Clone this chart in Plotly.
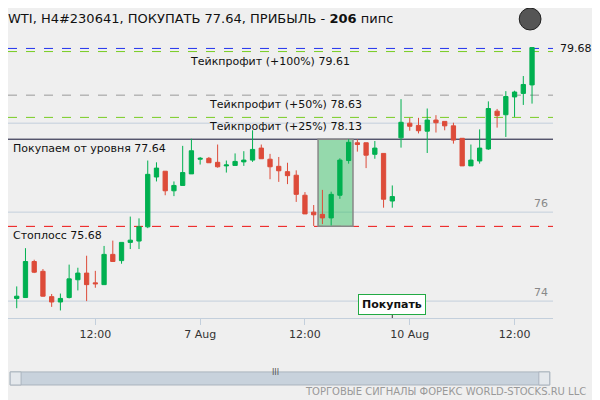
import plotly.graph_objects as go

# hourly bars
opens = [74.06, 74.08, 74.89, 74.67, 74.10, 73.98, 74.08, 74.48, 74.63, 74.41,
         74.37, 75.05, 74.91, 75.32, 75.35, 75.67, 76.79, 76.92, 76.48, 76.60,
         76.86, 77.19, 77.21, 77.12, 77.04, 77.05, 77.13, 77.17, 77.44, 77.19,
         77.03, 76.91, 76.83, 76.38, 76.00, 75.95, 75.87, 76.38, 77.16, 77.56,
         77.56, 77.30, 77.32, 76.25, 77.67, 78.00, 77.95, 77.82, 78.07, 78.04,
         77.94, 77.66, 77.04, 77.15, 77.42, 78.27, 78.19, 78.59, 78.67, 78.86]
highs = [74.33, 75.19, 74.93, 74.72, 74.16, 74.17, 74.82, 74.75, 75.02, 74.68,
         75.24, 75.36, 75.32, 75.90, 75.86, 77.16, 77.12, 76.92, 76.69, 77.49,
         77.65, 77.24, 77.24, 77.52, 77.16, 77.32, 77.37, 77.84, 77.52, 77.31,
         77.24, 77.11, 76.94, 76.45, 76.16, 76.50, 76.46, 77.21, 77.64, 77.64,
         77.56, 77.60, 77.32, 76.60, 78.54, 78.12, 78.12, 78.33, 78.18, 78.04,
         78.01, 77.66, 77.52, 77.86, 78.49, 78.32, 78.72, 78.73, 79.06, 79.70]
lows = [73.84, 74.07, 74.63, 74.10, 73.87, 73.79, 74.06, 74.24, 74.00, 74.30,
        74.37, 74.89, 74.84, 75.17, 75.17, 75.64, 76.69, 76.38, 76.36, 76.60,
        76.86, 77.07, 77.11, 77.00, 76.89, 77.05, 77.04, 77.13, 77.20, 76.74,
        76.68, 76.63, 76.23, 75.96, 75.69, 75.73, 75.70, 76.30, 77.09, 77.36,
        76.99, 77.20, 76.10, 76.10, 77.45, 77.83, 77.77, 77.33, 77.79, 77.84,
        77.54, 77.04, 77.04, 77.09, 77.40, 77.90, 77.69, 78.14, 78.41, 78.44]
closes = [74.11, 74.89, 74.65, 74.11, 73.98, 74.06, 74.50, 74.63, 74.37, 74.39,
          75.05, 74.89, 75.32, 75.37, 75.67, 76.85, 76.99, 76.48, 76.60, 76.89,
          77.38, 77.21, 77.11, 77.02, 77.06, 77.14, 77.17, 77.41, 77.20, 77.02,
          76.93, 76.82, 76.40, 75.96, 75.94, 75.87, 76.40, 77.17, 77.57, 77.52,
          77.28, 77.44, 76.29, 76.35, 78.02, 77.93, 77.83, 78.07, 78.01, 77.94,
          77.62, 77.04, 77.17, 77.44, 78.33, 78.17, 78.60, 78.70, 78.87, 79.70]
bars = list(range(len(opens)))

tick_pos = [9, 21, 33, 45, 57]
tick_text = ["12:00", "7 Aug", "12:00", "10 Aug", "12:00"]

entry = 77.64
stop = 75.68
tp_levels = [79.61, 78.63, 78.13]
tp_names = ["Тейкпрофит (+100%) 79.61", "Тейкпрофит (+50%) 78.63", "Тейкпрофит (+25%) 78.13"]
last_price = 79.68
signal_bar = 43
zone = [34.5, 38.5]

fig = go.Figure(go.Candlestick(
    x=bars, open=opens, high=highs, low=lows, close=closes,
    increasing=dict(line=dict(color="#00b050", width=1), fillcolor="#00b050"),
    decreasing=dict(line=dict(color="#dd4b39", width=1), fillcolor="#dd4b39"),
    whiskerwidth=0, showlegend=False, hoverinfo="skip"))

shapes = []
def hline(y, color, dash="solid", width=1):
    shapes.append(dict(type="line", xref="paper", x0=0, x1=1, y0=y, y1=y,
                       line=dict(color=color, dash=dash, width=width), layer="below"))

for g in [74, 76, 78]:
    hline(g, "#c3cfdc")
hline(last_price, "#2233ee", "dash")
hline(tp_levels[0], "#77cc22", "dash")
hline(tp_levels[1], "#999999", "dash")
hline(tp_levels[2], "#77cc22", "dash")
hline(entry, "#111133")
hline(stop, "#ee1111", "dash")
shapes.append(dict(type="rect", x0=zone[0], x1=zone[1], y0=stop, y1=entry,
                   fillcolor="rgba(40,190,90,0.45)", line=dict(color="#888888", width=1.5), layer="below"))
shapes.append(dict(type="line", x0=signal_bar, x1=signal_bar, y0=73.75, y1=73.62,
                   line=dict(color="#333333", width=1)))
# scrollbar
shapes.append(dict(type="rect", xref="paper", yref="paper", x0=0.004, x1=0.994, y0=-0.241, y1=-0.194,
                   fillcolor="#c8d2dc", line=dict(color="#aab4be", width=1)))
shapes.append(dict(type="rect", xref="paper", yref="paper", x0=0.004, x1=0.024, y0=-0.241, y1=-0.194,
                   fillcolor="#e4e8ec", line=dict(color="#aab4be", width=1)))
shapes.append(dict(type="rect", xref="paper", yref="paper", x0=0.974, x1=0.994, y0=-0.241, y1=-0.194,
                   fillcolor="#e4e8ec", line=dict(color="#aab4be", width=1)))
# globe
shapes.append(dict(type="circle", xref="paper", yref="paper", x0=0.938, x1=0.978, y0=1.036, y1=1.115,
                   fillcolor="#555555", line=dict(color="#222222", width=1)))

f = dict(family="DejaVu Sans", size=11, color="#111111")
ann = []
for y, t, xx in zip(tp_levels, tp_names, [0.48, 0.51, 0.51]):
    ann.append(dict(xref="paper", x=xx, y=y, text=t, showarrow=False, yanchor="top", yshift=-1, font=f))
ann.append(dict(xref="paper", x=0.005, y=entry, text="Покупаем от уровня 77.64", showarrow=False,
                xanchor="left", yanchor="top", yshift=-1, font=f))
ann.append(dict(xref="paper", x=0.005, y=stop, text="Стоплосс 75.68", showarrow=False,
                xanchor="left", yanchor="top", yshift=-1, font=f))
ann.append(dict(x=signal_bar, y=73.93, text="<b>Покупать</b>", showarrow=False, bgcolor="white",
                bordercolor="#22aa44", borderwidth=1, borderpad=3, font=dict(family="DejaVu Sans", size=11, color="#111")))
ann.append(dict(xref="paper", x=1.01, y=last_price, text="79.68", showarrow=False, xanchor="left", font=f))
for g in [76, 74]:
    ann.append(dict(xref="paper", x=0.995, y=g, text=str(g), showarrow=False, xanchor="right", yanchor="bottom",
                    font=dict(family="DejaVu Sans", size=11, color="#888888")))
ann.append(dict(xref="paper", yref="paper", x=1.065, y=-0.263, text="ТОРГОВЫЕ СИГНАЛЫ ФОРЕКС WORLD-STOCKS.RU LLC",
                showarrow=False, xanchor="right", yanchor="middle",
                font=dict(family="DejaVu Sans", size=10, color="#999999")))
ann.append(dict(xref="paper", yref="paper", x=0.49, y=-0.218, text="III", showarrow=False,
                font=dict(family="DejaVu Sans", size=8, color="#555555")))

fig.update_layout(
    width=592, height=392, margin=dict(l=0, r=47, t=32, b=82),
    paper_bgcolor="#efefef", plot_bgcolor="#efefef",
    title=dict(text="WTI, H4#230641, ПОКУПАТЬ 77.64, ПРИБЫЛЬ - <b>206</b> пипс", x=0.0, xanchor="left",
               y=0.985, font=dict(family="DejaVu Sans", size=13, color="#111111")),
    xaxis=dict(range=[-1, 61.4], rangeslider=dict(visible=False), showgrid=False, zeroline=False,
               tickmode="array", tickvals=tick_pos, ticktext=tick_text, ticks="outside", ticklen=6,
               tickcolor="#c3cfdc", showline=True, linecolor="#c3cfdc",
               tickfont=dict(family="DejaVu Sans", size=11, color="#333333")),
    yaxis=dict(range=[73.62, 79.87], showgrid=False, zeroline=False, showticklabels=False),
    shapes=shapes, annotations=ann)

fig.write_html("out.html")
